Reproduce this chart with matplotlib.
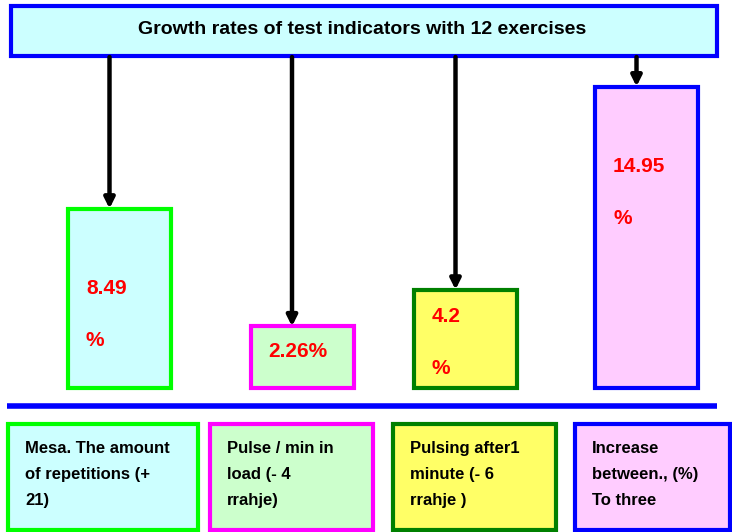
import matplotlib
matplotlib.use("Agg")
import matplotlib.pyplot as plt
from matplotlib.patches import Rectangle

plt.rcParams['font.family'] = ['Liberation Sans', 'DejaVu Sans']

# data
title = "Growth rates of test indicators with 12 exercises"
values = [8.49, 2.26, 4.2, 14.95]
value_labels = ["8.49\n\n%", "2.26%", "4.2\n\n%", "14.95\n\n%"]
categories = ["Mesa. The amount\nof repetitions (+\n21)",
              "Pulse / min in\nload (- 4\nrrahje)",
              "Pulsing after1\nminute (- 6\nrrahje )",
              "Increase\nbetween., (%)\nTo three"]

# styles
fills = ['#ccffff', '#ccffcc', '#ffff66', '#ffccff']
edges = ['#00ff00', '#ff00ff', '#008000', '#0000ff']

W, H = 732, 532
fig = plt.figure(figsize=(W / 100, H / 100), dpi=100)

# bar axes: baseline at y=388px, top at title bottom (57px)
px_per_unit = 18.9
y0 = -1.0
base_y, top_y = 388, 57
ax = fig.add_axes([0, (H - base_y) / H, 1, (base_y - top_y) / H])
ax.set_xlim(0, W)
ax.set_ylim(y0, y0 + (base_y - top_y) / px_per_unit)
ax.axis('off')

centers = [119.5, 302, 465.5, 646.5]
bar_w = 103
bars = ax.bar(centers, [v - y0 for v in values], bottom=y0, width=bar_w,
              color=fills, edgecolor=edges, linewidth=3)
for b in bars:
    b.set_clip_on(False)

ymax = ax.get_ylim()[1]
text_drop = [106, 25, 53, 106]
for cx, v, lab, d in zip(centers, values, value_labels, text_drop):
    ax.annotate("", xy=(cx - 10, v), xytext=(cx - 10, ymax),
                arrowprops=dict(arrowstyle='-|>', lw=3.2, color='black',
                                mutation_scale=15, shrinkA=0, shrinkB=0))
    ax.text(cx - bar_w / 2 + 18, v - d / px_per_unit, lab, color='red',
            fontsize=15, fontweight='bold', va='center', ha='left',
            linespacing=1.47)

# overlay in pixel coordinates
ov = fig.add_axes([0, 0, 1, 1], zorder=-1)
ov.set_xlim(0, W)
ov.set_ylim(H, 0)
ov.axis('off')

ov.add_patch(Rectangle((11, 6), 706, 50, facecolor='#ccffff',
                       edgecolor='#0000ff', linewidth=3))
ov.text(362, 30, title, fontsize=14, fontweight='bold', ha='center', va='center')

ov.plot([7, 717], [406, 406], color='#0000ff', linewidth=4, solid_capstyle='butt')

box_x = [8, 210, 393, 575]
box_w = [190, 163, 163, 155]
for bx, bw, fc, ec, txt in zip(box_x, box_w, fills, edges, categories):
    ov.add_patch(Rectangle((bx, 424), bw, 106, facecolor=fc, edgecolor=ec,
                           linewidth=3))
    ov.text(bx + 17, 441, txt, fontsize=12, fontweight='bold', ha='left',
            va='top', linespacing=1.9)

fig.savefig('out.png', dpi=100)
